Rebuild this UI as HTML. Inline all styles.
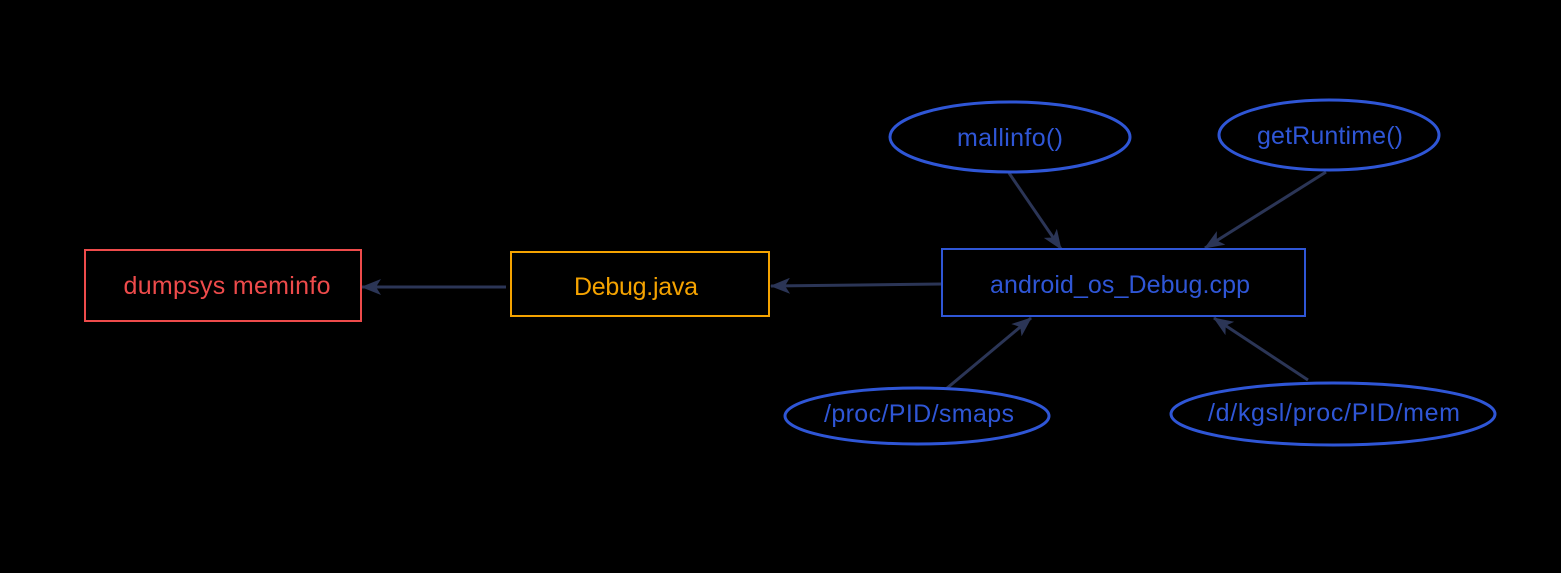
<!DOCTYPE html>
<html><head><style>body{margin:0;background:#000;}svg{display:block}</style></head><body>
<svg width="1561" height="573" viewBox="0 0 1561 573" xmlns="http://www.w3.org/2000/svg" font-family="Liberation Sans, sans-serif" font-size="25">
<defs><marker id="a" viewBox="0 0 20 16" refX="19" refY="8" markerWidth="20" markerHeight="16" markerUnits="userSpaceOnUse" orient="auto"><path d="M0,0 L20,8 L0,16 L5,8 z" fill="#2b3556"/></marker></defs>
<rect width="1561" height="573" fill="#000"/>
<g stroke="#2b3556" stroke-width="3" fill="none" marker-end="url(#a)">
<line x1="506" y1="287" x2="362" y2="287"/>
<path d="M941,284 L860,285 L771,286"/>
<line x1="1009" y1="173" x2="1061" y2="249"/>
<line x1="1326" y1="172" x2="1205" y2="248"/>
<line x1="946" y1="389" x2="1031" y2="318"/>
<line x1="1308" y1="380" x2="1214" y2="318"/>
</g>
<rect x="85" y="250" width="276" height="71" fill="none" stroke="#ee4b4b" stroke-width="2"/>
<text x="227" y="294" fill="#ee4b4b" text-anchor="middle" textLength="207">dumpsys meminfo</text>
<rect x="511" y="252" width="258" height="64" fill="none" stroke="#f5a300" stroke-width="2"/>
<text x="636" y="295" fill="#f5a300" text-anchor="middle" textLength="124">Debug.java</text>
<rect x="942" y="249" width="363" height="67" fill="none" stroke="#2f56d6" stroke-width="2"/>
<text x="1120" y="293" fill="#2f56d6" text-anchor="middle" textLength="260">android_os_Debug.cpp</text>
<g fill="none" stroke="#2f56d6" stroke-width="3">
<ellipse cx="1010" cy="137" rx="120" ry="35"/>
<ellipse cx="1329" cy="135" rx="110" ry="35"/>
<ellipse cx="917" cy="416" rx="132" ry="28"/>
<ellipse cx="1333" cy="414" rx="162" ry="31"/>
</g>
<g fill="#2f56d6" text-anchor="middle">
<text x="1010" y="146" textLength="106">mallinfo()</text>
<text x="1330" y="144" textLength="146">getRuntime()</text>
<text x="919" y="422" textLength="190">/proc/PID/smaps</text>
<text x="1334" y="421" textLength="252">/d/kgsl/proc/PID/mem</text>
</g>
</svg>
</body></html>
